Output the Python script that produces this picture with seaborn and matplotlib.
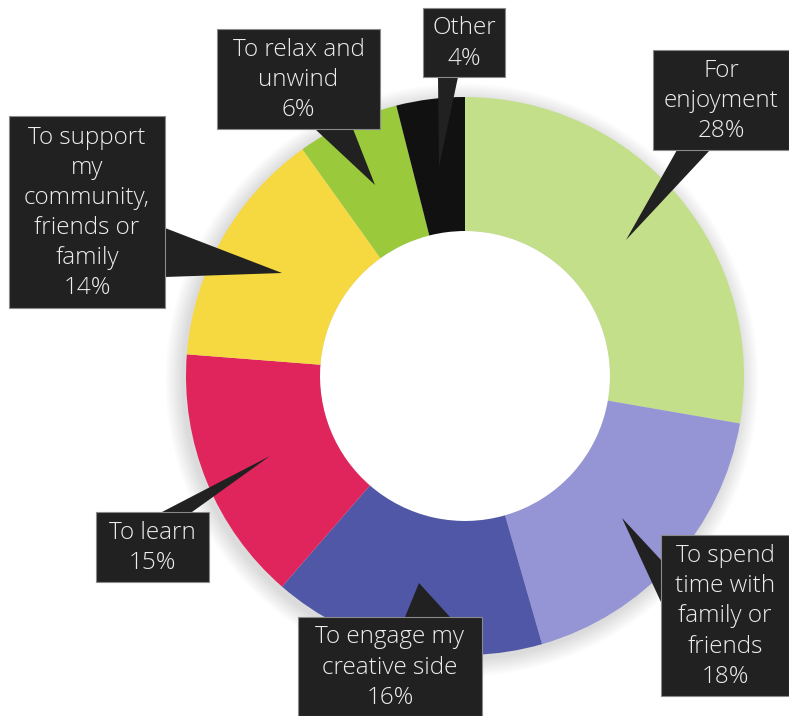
import matplotlib
matplotlib.use("Agg")
import matplotlib.pyplot as plt
import seaborn as sns
from matplotlib.patches import Rectangle, Polygon, Circle

# Reasons for taking part, share of respondents (%)
labels = [
    "For\nenjoyment",
    "To spend\ntime with\nfamily or\nfriends",
    "To engage my\ncreative side",
    "To learn",
    "To support\nmy\ncommunity,\nfriends or\nfamily",
    "To relax and\nunwind",
    "Other",
]
values = [28, 18, 16, 15, 14, 6, 4]
colors = ["#c3df8a", "#9594d4", "#4f57a6", "#e0245c", "#f6d840", "#9aca3c", "#111111"]

# Callout layout in pixel space (top-left origin): box (x0, y0, x1, y1),
# pointer base points and pointer tip
boxes = [
    (653, 50, 789, 150),
    (661, 535, 789, 696),
    (298, 617, 482, 716),
    (96, 512, 209, 582),
    (9, 116, 165, 308),
    (217, 29, 380, 129),
    (423, 8, 505, 77),
]
pointers = [
    [(677, 150), (710, 150), (626, 240)],
    [(661, 560), (661, 602), (622, 518)],
    [(405, 617), (450, 617), (419, 583)],
    [(162, 512), (192, 512), (270, 456)],
    [(165, 228), (165, 277), (282, 273)],
    [(315, 129), (353, 129), (375, 185)],
    [(438, 77), (458, 77), (439, 167)],
]

W, H = 789, 716
sns.set_theme(style="white")
plt.rcParams["font.family"] = ["Open Sans", "DejaVu Sans"]

fig = plt.figure(figsize=(W / 100, H / 100), dpi=100)
ax = fig.add_axes([0, 0, 1, 1])


def fy(y):
    return H - y


cx, cy, R, ring = 465, fy(376), 279, 134

# soft halo around the outer edge of the ring
for k in range(12):
    ax.add_patch(Circle((cx - 3, cy - 4), R + 1 + k * 1.5, color="black",
                        alpha=0.010, lw=0, zorder=0))
ax.add_patch(Circle((cx, cy), R - ring, color="white", lw=0, zorder=0.5))

ax.pie(values, colors=colors, startangle=90, counterclock=False,
       center=(cx, cy), radius=R, frame=True,
       wedgeprops=dict(width=ring, linewidth=0, zorder=1))
ax.set_xlim(0, W)
ax.set_ylim(0, H)
ax.set_aspect("equal")
ax.axis("off")

for lab, val, (x0, y0, x1, y1), ptr in zip(labels, values, boxes, pointers):
    ax.add_patch(Polygon([(px, fy(py)) for px, py in ptr], closed=True,
                         facecolor="#212121", edgecolor="none", zorder=4))
    ax.add_patch(Rectangle((x0, fy(y1)), x1 - x0, y1 - y0, facecolor="#212121",
                           edgecolor="#8a8a8a", linewidth=0.8, zorder=5))
    ax.text((x0 + x1) / 2, fy((y0 + y1) / 2) - 1, f"{lab}\n{val}%", ha="center",
            va="center", color="#ededed", fontsize=17.5, fontweight="light",
            linespacing=1.34, zorder=6)

fig.savefig("out.png", dpi=100, facecolor="white")
